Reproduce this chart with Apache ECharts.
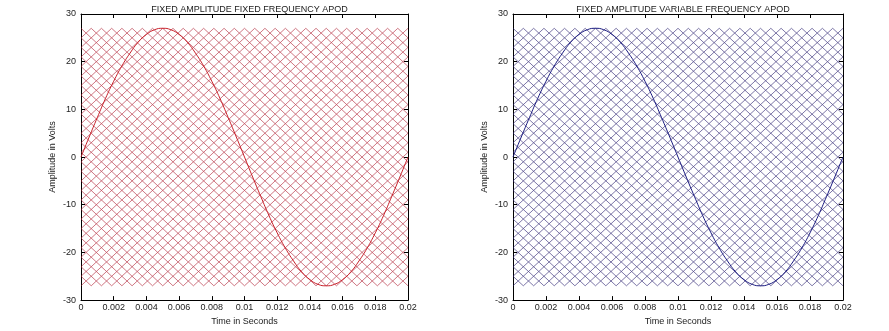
<!DOCTYPE html>
<html>
<head>
<meta charset="utf-8">
<title>APOD carriers</title>
<script src="https://cdn.jsdelivr.net/npm/echarts@6/dist/echarts.min.js"></script>
<style>
  html, body { margin: 0; padding: 0; background: #fff; }
  #chart { width: 889px; height: 331px; }
</style>
</head>
<body>
<div id="chart"></div>
<script>
// Reference (modulating) sine wave, 50 Hz, 27 V peak
const sineTime = [
  0, 0.0005, 0.001, 0.0015, 0.002, 0.0025, 0.003, 0.0035, 0.004, 0.0045,
  0.005, 0.0055, 0.006, 0.0065, 0.007, 0.0075, 0.008, 0.0085, 0.009, 0.0095,
  0.01, 0.0105, 0.011, 0.0115, 0.012, 0.0125, 0.013, 0.0135, 0.014, 0.0145,
  0.015, 0.0155, 0.016, 0.0165, 0.017, 0.0175, 0.018, 0.0185, 0.019, 0.0195, 0.02
];
const sineVolts = [
  0, 4.2, 8.3, 12.3, 15.9, 19.1, 21.8, 24.1, 25.7, 26.7,
  27, 26.7, 25.7, 24.1, 21.8, 19.1, 15.9, 12.3, 8.3, 4.2,
  0, -4.2, -8.3, -12.3, -15.9, -19.1, -21.8, -24.1, -25.7, -26.7,
  -27, -26.7, -25.7, -24.1, -21.8, -19.1, -15.9, -12.3, -8.3, -4.2, 0
];

// Carrier band edges (one triangular carrier per band, alternate phase opposition)
const bandEdges = [
  -27, -26, -25, -24, -23, -22, -21, -20, -19, -18, -17, -16, -15, -14,
  -13, -12, -11, -10, -9, -8, -7, -6, -5, -4, -3, -2, -1, 0,
  1, 2, 3, 4, 5, 6, 7, 8, 9, 10, 11, 12, 13, 14,
  15, 16, 17, 18, 19, 20, 21, 22, 23, 24, 25, 26, 27
];
// Carrier half period in seconds (peak-to-trough), for each panel
const carrierHalfPeriodLeft = 0.0003125;
const carrierHalfPeriodRight = 0.0003125;
const timeEnd = 0.02;

const yTicks = [-30, -20, -10, 0, 10, 20, 30];
const xTickStep = 0.002;

const panelTitles = [
  'FIXED AMPLITUDE FIXED FREQUENCY APOD',
  'FIXED AMPLITUDE VARIABLE FREQUENCY APOD'
];

function carrierSeries(gridIdx, halfPeriod, color) {
  const out = [];
  const steps = Math.round(timeEnd / halfPeriod);
  for (let k = 0; k < bandEdges.length - 1; k++) {
    const lo = bandEdges[k], hi = bandEdges[k + 1];
    const pts = [];
    for (let j = 0; j <= steps; j++) {
      pts.push([j * halfPeriod, (j + k) % 2 === 0 ? lo : hi]);
    }
    out.push({
      type: 'line', xAxisIndex: gridIdx * 2, yAxisIndex: gridIdx * 2,
      data: pts, symbol: 'none', silent: true, z: 2,
      lineStyle: { color: color, width: 1 }
    });
  }
  return out;
}

const grids = [
  { left: 81, top: 14, width: 327, height: 290 },
  { left: 513, top: 14, width: 330, height: 290 }
];

const axisLine = { show: true, onZero: false, lineStyle: { color: '#000', width: 1 } };
const tickStyle = { show: true, inside: true, length: 4, lineStyle: { color: '#000' } };
const labelFont = { fontFamily: 'Liberation Sans, Arial, sans-serif', fontSize: 9, color: '#222' };

const xAxes = [], yAxes = [];
grids.forEach((g, i) => {
  xAxes.push({
    type: 'value', gridIndex: i, min: 0, max: timeEnd, interval: xTickStep,
    position: 'bottom',
    name: 'Time in Seconds', nameLocation: 'middle', nameGap: 11,
    nameTextStyle: labelFont,
    axisLine: axisLine, axisTick: tickStyle, splitLine: { show: false },
    axisLabel: Object.assign({ margin: 3, formatter: v => String(+v.toFixed(3)) }, labelFont)
  });
  xAxes.push({
    type: 'value', gridIndex: i, min: 0, max: timeEnd, interval: xTickStep,
    position: 'top',
    axisLine: axisLine, axisTick: tickStyle, splitLine: { show: false },
    axisLabel: { show: false }
  });
  yAxes.push({
    type: 'value', gridIndex: i, min: yTicks[0], max: yTicks[yTicks.length - 1], interval: 10,
    position: 'left',
    name: 'Amplitude in Volts', nameLocation: 'middle', nameGap: 24,
    nameTextStyle: labelFont,
    axisLine: axisLine, axisTick: tickStyle, splitLine: { show: false },
    axisLabel: Object.assign({ margin: 5 }, labelFont)
  });
  yAxes.push({
    type: 'value', gridIndex: i, min: yTicks[0], max: yTicks[yTicks.length - 1], interval: 10,
    position: 'right',
    axisLine: axisLine, axisTick: tickStyle, splitLine: { show: false },
    axisLabel: { show: false }
  });
});

const sineData = sineTime.map((t, i) => [t, sineVolts[i]]);

const series = [].concat(
  carrierSeries(0, carrierHalfPeriodLeft, 'rgba(175,30,50,0.6)'),
  carrierSeries(1, carrierHalfPeriodRight, 'rgba(40,30,110,0.6)'),
  [
    {
      type: 'line', xAxisIndex: 0, yAxisIndex: 0, data: sineData, smooth: true,
      symbol: 'none', z: 5, lineStyle: { color: '#c8202a', width: 1 }
    },
    {
      type: 'line', xAxisIndex: 2, yAxisIndex: 2, data: sineData, smooth: true,
      symbol: 'none', z: 5, lineStyle: { color: '#1a1a80', width: 1 }
    }
  ]
);

const chart = echarts.init(document.getElementById('chart'), null, { renderer: 'canvas' });
chart.setOption({
  animation: false,
  backgroundColor: '#fff',
  title: panelTitles.map((txt, i) => ({
    text: txt,
    left: grids[i].left + grids[i].width / 2,
    top: 0,
    textAlign: 'center',
    textStyle: { fontFamily: 'Liberation Sans, Arial, sans-serif', fontSize: 9, fontWeight: 'normal', color: '#222' }
  })),
  grid: grids,
  xAxis: xAxes,
  yAxis: yAxes,
  series: series
});
</script>
</body>
</html>
